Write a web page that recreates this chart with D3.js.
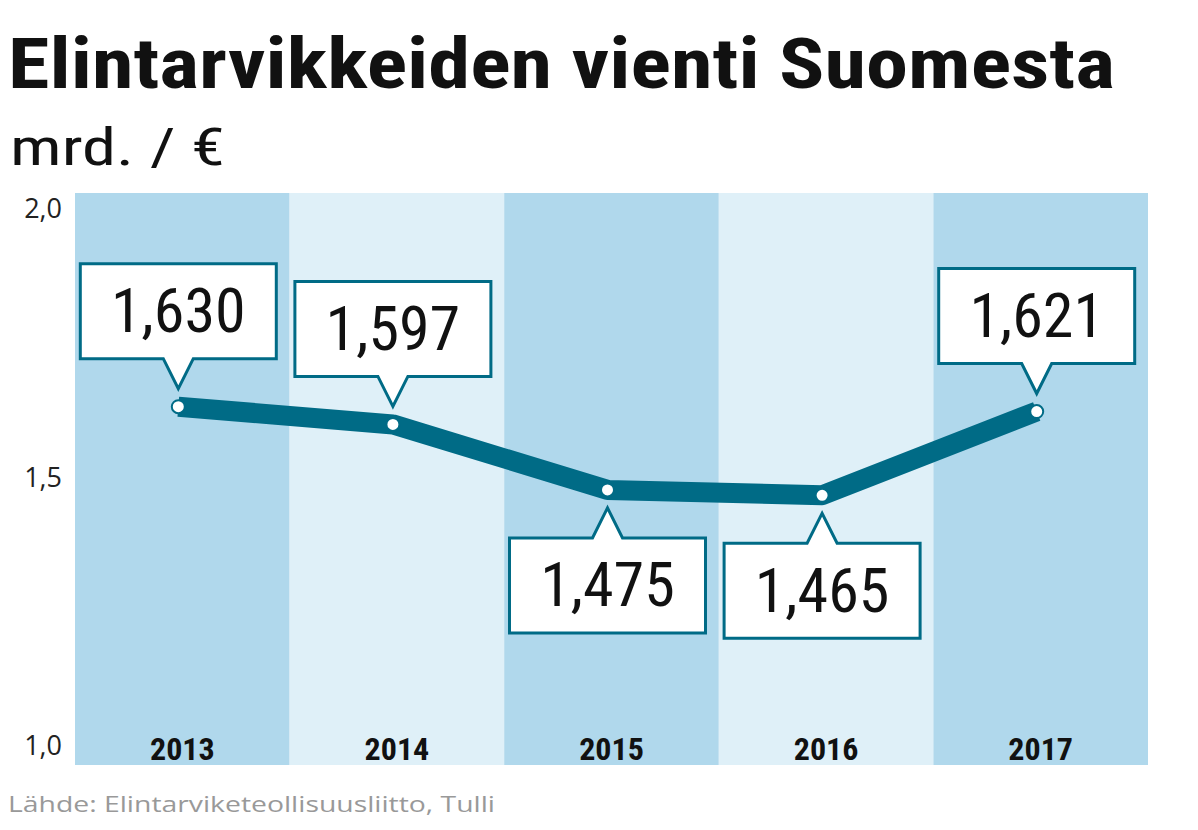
<!DOCTYPE html>
<html><head><meta charset="utf-8">
<script src="https://cdn.jsdelivr.net/npm/d3@7"></script>
<style>body{margin:0;background:#fff}</style>
</head><body>
<svg id="c" width="1198" height="830"></svg>
<script>
// data
const years = ["2013", "2014", "2015", "2016", "2017"];
const values = [1.630, 1.597, 1.475, 1.465, 1.621];
const labelPos = ["above", "above", "below", "below", "above"];
const yTicks = [1.0, 1.5, 2.0];

const svg = d3.select("#c");
const cond = "'Liberation Sans Narrow','Roboto Condensed','Open Sans',sans-serif";
const teal = "#006b86";

const x = d3.scaleBand().domain(years).range([75, 1148]);
const y = d3.scaleLinear().domain([1, 2]).range([745, 208]);

// background bands
svg.selectAll("rect.band").data(years).join("rect")
  .attr("x", d => x(d)).attr("width", x.bandwidth())
  .attr("y", 193).attr("height", 572)
  .attr("fill", (d, i) => i % 2 ? "#dff0f8" : "#b0d8ec");

// title
svg.append("text").attr("x", 8).attr("y", 88).text("Elintarvikkeiden vienti Suomesta")
  .attr("font-family", cond).attr("font-weight", "bold").attr("font-size", 70).attr("fill", "#111")
  .attr("textLength", 1107).attr("lengthAdjust", "spacingAndGlyphs");
svg.append("text").attr("x", 10).attr("y", 165).text("mrd.  / €")
  .attr("font-family", cond).attr("font-size", 52).attr("fill", "#111")
  .attr("textLength", 215).attr("lengthAdjust", "spacingAndGlyphs");

// y ticks
svg.selectAll("text.yt").data(yTicks).join("text")
  .attr("x", 62).attr("y", d => y(d) + 10).attr("text-anchor", "end")
  .attr("font-family", "'Open Sans',sans-serif").attr("font-size", 27).attr("fill", "#222")
  .text(d => d3.format(".1f")(d).replace(".", ","));

// year labels
svg.selectAll("text.yr").data(years).join("text")
  .attr("x", d => x(d) + x.bandwidth() / 2).attr("y", 760).attr("text-anchor", "middle")
  .attr("font-family", cond).attr("font-weight", "bold").attr("font-size", 32).attr("fill", "#111")
  .text(d => d);

// line
const pts = years.map((d, i) => [x(d) + x.bandwidth() / 2 - 4, y(values[i])]);
svg.append("path").attr("d", d3.line()(pts)).attr("fill", "none")
  .attr("stroke", teal).attr("stroke-width", 20).attr("stroke-linejoin", "round");
svg.selectAll("circle").data(pts).join("circle")
  .attr("cx", d => d[0]).attr("cy", d => d[1]).attr("r", 6.5)
  .attr("fill", "#fff").attr("stroke", teal).attr("stroke-width", 2);

// callouts
const bw = 196, bh = 95;
pts.forEach((p, i) => {
  const above = labelPos[i] === "above";
  const dx = p[0];
  const bx = dx - bw / 2;
  const tip = above ? p[1] - 18 : p[1] + 18;
  const by = above ? p[1] - 48 - bh : p[1] + 48;
  const edge = above ? by + bh : by;
  const far = above ? by : by + bh;
  const path = `M${bx},${far}H${bx + bw}V${edge}H${dx + 15}L${dx},${tip}L${dx - 15},${edge}H${bx}Z`;
  svg.append("path").attr("d", path).attr("fill", "#fff").attr("stroke", teal).attr("stroke-width", 3);
  svg.append("text").attr("x", dx).attr("y", by + bh / 2 + 21).attr("text-anchor", "middle")
    .attr("font-family", cond).attr("font-size", 62).attr("fill", "#111")
    .text(d3.format(".3f")(values[i]).replace(".", ","));
});

// source
svg.append("text").attr("x", 8).attr("y", 812).text("Lähde: Elintarviketeollisuusliitto, Tulli")
  .attr("font-family", "'Open Sans',sans-serif").attr("font-size", 22).attr("fill", "#999")
  .attr("textLength", 487).attr("lengthAdjust", "spacingAndGlyphs");
</script>
</body></html>
